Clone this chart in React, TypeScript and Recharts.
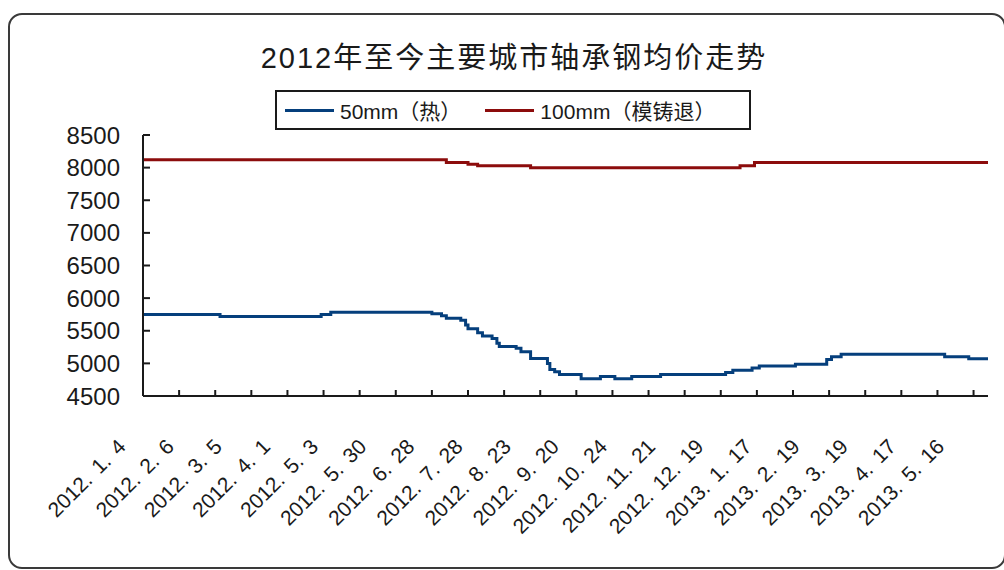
import React from 'react';
import { LineChart, Line, XAxis, YAxis, Legend } from 'recharts';

const TITLE = '2012年至今主要城市轴承钢均价走势';
const SERIES_NAMES = ['50mm（热）', '100mm（模铸退）'];

// trading-day index along the x axis
const DAY_COUNT = 351;
const TICK_EVERY = 15;
const LABEL_EVERY = 20;

const DATE_LABELS = [
  '2012.1.4', '2012.2.6', '2012.3.5', '2012.4.1', '2012.5.3', '2012.5.30',
  '2012.6.28', '2012.7.28', '2012.8.23', '2012.9.20', '2012.10.24', '2012.11.21',
  '2012.12.19', '2013.1.17', '2013.2.19', '2013.3.19', '2013.4.17', '2013.5.16',
];

const PRICE_TICKS = [4500, 5000, 5500, 6000, 6500, 7000, 7500, 8000, 8500];

// 50mm hot rolled: day where the price changes, and the new price
const HOT_DAYS = [
  0, 32, 74, 78, 120, 124, 126, 132, 134, 135, 139, 141, 145, 147, 148, 155, 157,
  161, 168, 169, 171, 173, 182, 190, 196, 203, 215, 242, 245, 253, 256, 271, 284,
  286, 290, 333, 343, 351,
];
const HOT_PRICES = [
  5750, 5720, 5750, 5785, 5760, 5730, 5690, 5660, 5590, 5530, 5470, 5420, 5380,
  5310, 5260, 5230, 5180, 5075, 5000, 4905, 4870, 4830, 4765, 4800, 4765, 4800,
  4830, 4860, 4895, 4930, 4960, 4985, 5060, 5100, 5140, 5100, 5070, 5070,
];

// 100mm cast & annealed
const CAST_DAYS = [0, 126, 135, 139, 161, 248, 254, 351];
const CAST_PRICES = [8120, 8080, 8050, 8030, 8000, 8030, 8080, 8080];

const hotData = HOT_DAYS.map((day, i) => ({ day, price: HOT_PRICES[i] }));
const castData = CAST_DAYS.map((day, i) => ({ day, price: CAST_PRICES[i] }));

const xTicks: number[] = [];
for (let d = 0; d <= DAY_COUNT; d += 5) {
  if (d % TICK_EVERY === 0 || d % LABEL_EVERY === 0) xTicks.push(d);
}

const LATIN = "'Liberation Sans', Arial, 'Noto Sans CJK SC', sans-serif";
const INK = '#1a1a1a';

function PriceTick(props: any) {
  const { x, y, payload } = props;
  return (
    <g>
      <line x1={x + 23} y1={y} x2={x + 30} y2={y} stroke={INK} strokeWidth={2} />
      <text x={x} y={y} dy={8.5} textAnchor="end" fontSize={24} fontFamily={LATIN} fill={INK}>
        {payload.value}
      </text>
    </g>
  );
}

function DateTick(props: any) {
  const { x, y, payload } = props;
  const day = payload.value;
  const label = day % LABEL_EVERY === 0 ? DATE_LABELS[day / LABEL_EVERY] : undefined;
  const lx = x - 16;
  const ly = y + 52;
  const pieces = label ? label.split('.') : [];
  return (
    <g>
      {day % TICK_EVERY === 0 && (
        <line x1={x} y1={y} x2={x} y2={y - 6} stroke={INK} strokeWidth={2} />
      )}
      {label && (
        <text
          x={lx}
          y={ly}
          transform={`rotate(-45 ${lx} ${ly})`}
          textAnchor="end"
          fontSize={21}
          fontFamily={LATIN}
          fill={INK}
        >
          {pieces.map((p: string, i: number) => (
            <tspan key={i} dx={i ? 9 : 0}>
              {i < pieces.length - 1 ? p + '.' : p}
            </tspan>
          ))}
        </text>
      )}
    </g>
  );
}

function LegendBox(props: any) {
  const { payload } = props;
  const items = [...(payload || [])].sort(
    (a: any, b: any) => SERIES_NAMES.indexOf(a.value) - SERIES_NAMES.indexOf(b.value),
  );
  return (
    <div
      style={{
        boxSizing: 'border-box',
        height: 40,
        border: `2px solid ${INK}`,
        background: '#fff',
        display: 'flex',
        alignItems: 'center',
        paddingLeft: 8,
        fontFamily: LATIN,
        fontSize: 21,
        color: INK,
        whiteSpace: 'nowrap',
      }}
    >
      {items.map((entry: any, i: number) => (
        <div key={i} style={{ display: 'flex', alignItems: 'center', marginRight: 24 }}>
          <span style={{ display: 'inline-block', width: 49, height: 3, background: entry.color, marginRight: 6 }} />
          <span>{entry.value}</span>
        </div>
      ))}
    </div>
  );
}

export default function App() {
  return (
    <div style={{ position: 'absolute', left: 0, top: 0, width: 1004, height: 570, background: '#fff' }}>
      <div
        style={{
          position: 'absolute',
          left: 8,
          top: 13,
          width: 998,
          height: 556,
          boxSizing: 'border-box',
          border: '2px solid #3a3a3a',
          borderRadius: 14,
        }}
      />
      <div
        style={{
          position: 'absolute',
          left: 0,
          top: 38,
          width: 1028,
          height: 40,
          lineHeight: '40px',
          textAlign: 'center',
          fontFamily: LATIN,
          fontSize: 29,
          letterSpacing: 2,
          color: INK,
        }}
      >
        {TITLE}
      </div>
      <div style={{ position: 'absolute', left: 0, top: 0 }}>
        <LineChart width={1004} height={570} margin={{ top: 135, right: 16, bottom: 0, left: 0 }}>
          <XAxis
            type="number"
            dataKey="day"
            domain={[0, DAY_COUNT]}
            ticks={xTicks}
            interval={0}
            height={174}
            tickLine={false}
            tickSize={0}
            tickMargin={0}
            axisLine={{ stroke: INK, strokeWidth: 2 }}
            tick={<DateTick />}
          />
          <YAxis
            type="number"
            domain={[4500, 8500]}
            ticks={PRICE_TICKS}
            interval={0}
            width={143}
            tickLine={false}
            tickSize={0}
            tickMargin={23}
            axisLine={{ stroke: INK, strokeWidth: 2 }}
            tick={<PriceTick />}
          />
          <Legend
            layout="vertical"
            align="center"
            verticalAlign="middle"
            content={<LegendBox />}
            wrapperStyle={{ left: 275, top: 90, width: 476, height: 40 }}
          />
          <Line
            data={hotData}
            dataKey="price"
            name={SERIES_NAMES[0]}
            type="stepAfter"
            stroke="#053f7c"
            strokeWidth={3}
            dot={false}
            activeDot={false}
            isAnimationActive={false}
          />
          <Line
            data={castData}
            dataKey="price"
            name={SERIES_NAMES[1]}
            type="stepAfter"
            stroke="#8c0c0c"
            strokeWidth={3}
            dot={false}
            activeDot={false}
            isAnimationActive={false}
          />
        </LineChart>
      </div>
    </div>
  );
}
